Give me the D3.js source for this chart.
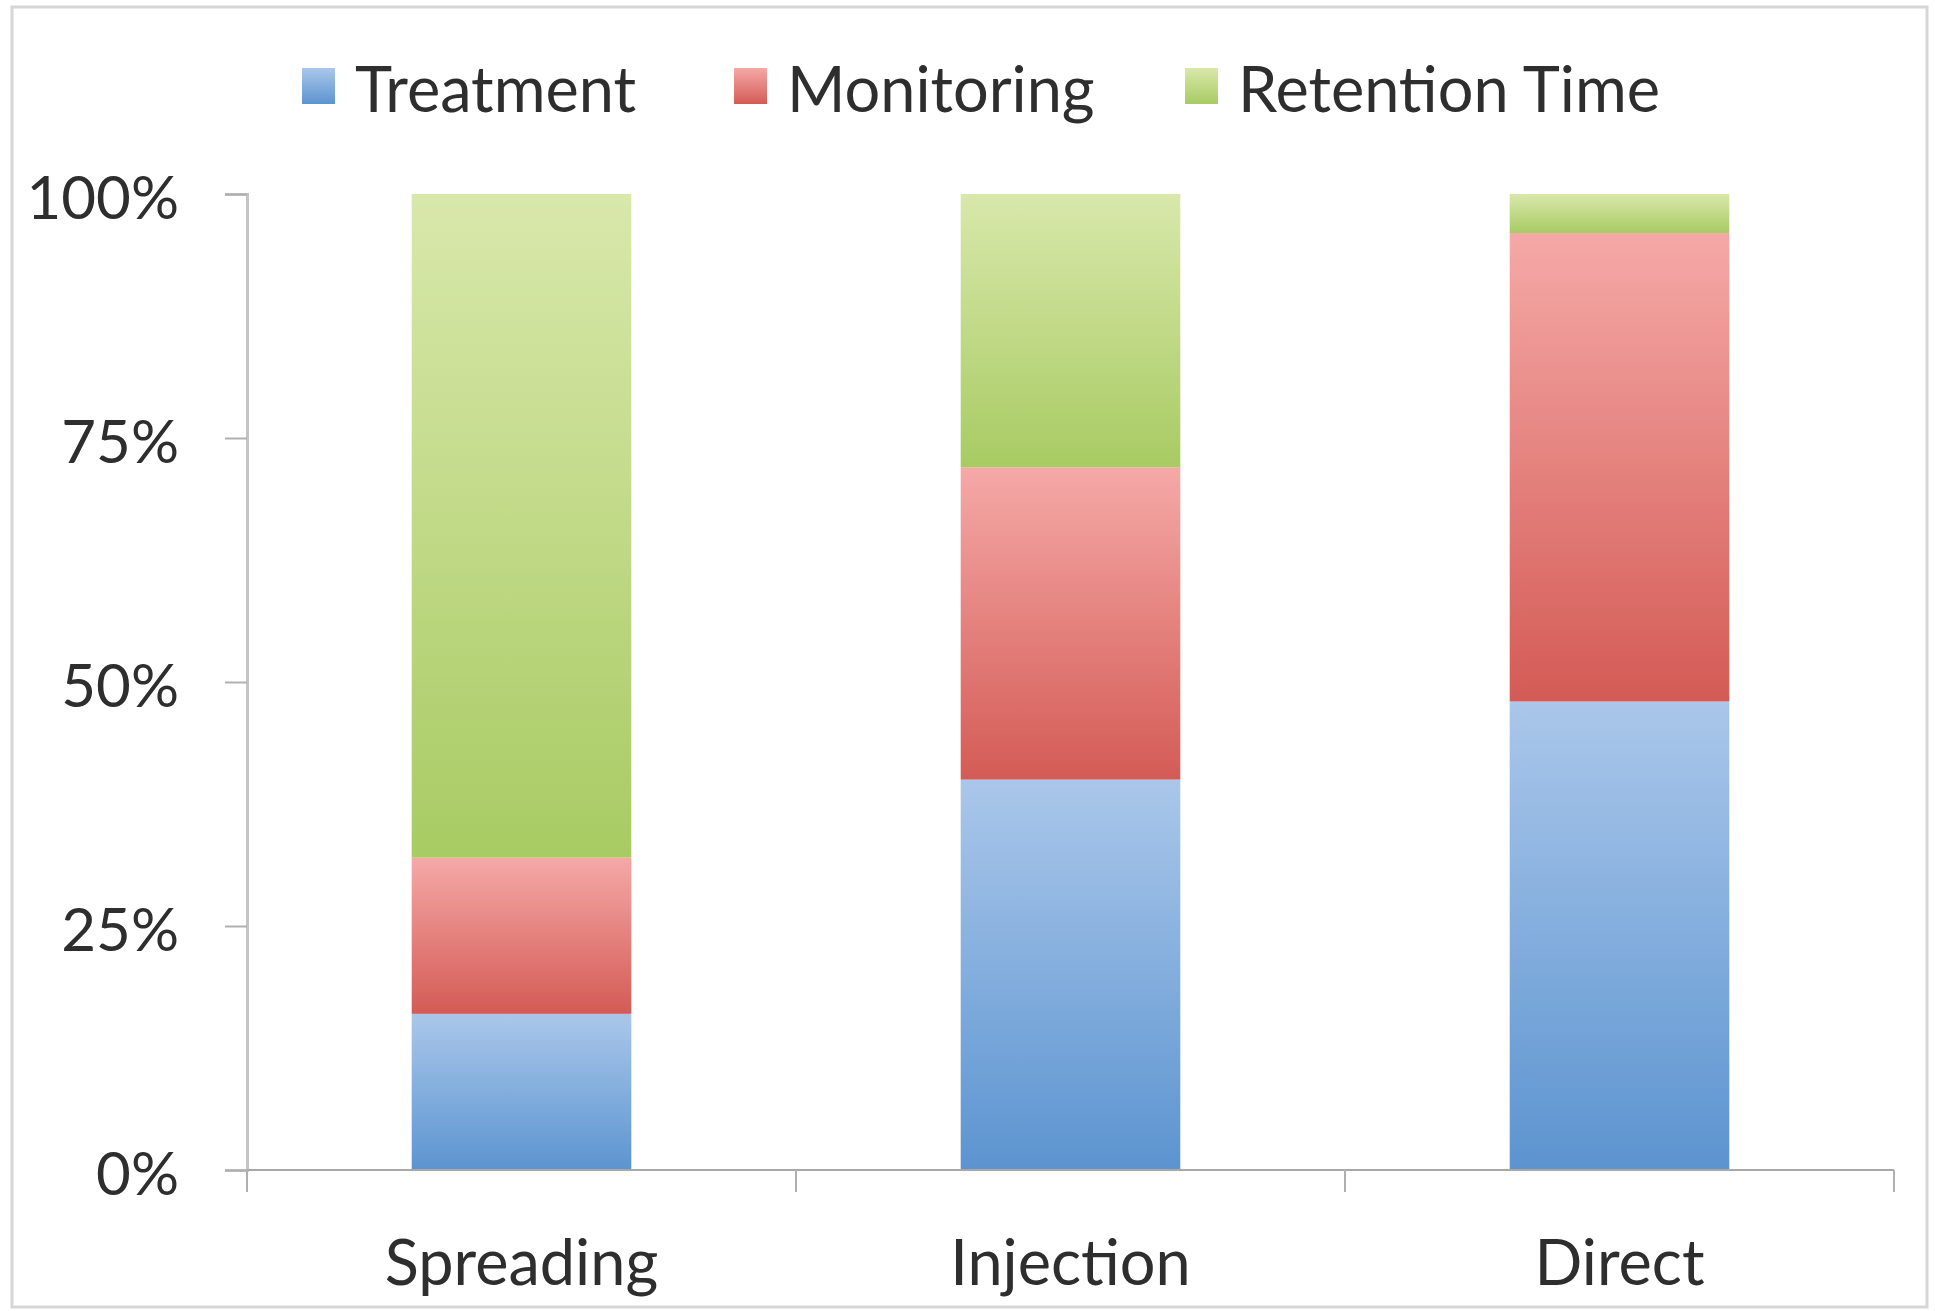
<!DOCTYPE html>
<html>
<head>
<meta charset="utf-8">
<script src="https://cdn.jsdelivr.net/npm/d3@7"></script>
<style>
  html, body { margin: 0; padding: 0; background: #fff; }
  svg { display: block; }
  text { font-family: Lato, "Open Sans", sans-serif; fill: #2e2e2e; }
</style>
</head>
<body>
<script>
// ---- data ----
const categories = ["Spreading", "Injection", "Direct"];
const seriesNames = ["Treatment", "Monitoring", "Retention Time"];
const treatment = [16, 40, 48];
const monitoring = [16, 32, 48];
const retention = [68, 28, 4];
const yTicks = [0, 25, 50, 75, 100];

// ---- layout ----
const W = 1935, H = 1311;
const x0 = 247, x1 = 1894, y0 = 1170, y1 = 194;

const svg = d3.select("body").append("svg").attr("width", W).attr("height", H);

const colors = {
  "Treatment": ["#aac7ea", "#5c94d0"],
  "Monitoring": ["#f5a9a7", "#d45b55"],
  "Retention Time": ["#d9e8ab", "#a8cb63"]
};

const defs = svg.append("defs");
seriesNames.forEach((s, i) => {
  const g = defs.append("linearGradient").attr("id", "g" + i)
    .attr("x1", 0).attr("y1", 0).attr("x2", 0).attr("y2", 1);
  g.append("stop").attr("offset", "0%").attr("stop-color", colors[s][0]);
  g.append("stop").attr("offset", "100%").attr("stop-color", colors[s][1]);
});

// frame
svg.append("rect").attr("x", 12).attr("y", 7).attr("width", 1915).attr("height", 1300)
  .attr("fill", "none").attr("stroke", "#d6d6d6").attr("stroke-width", 3);

const table = categories.map((c, i) => ({
  cat: c, "Treatment": treatment[i], "Monitoring": monitoring[i], "Retention Time": retention[i]
}));
const stacked = d3.stack().keys(seriesNames)(table);

const x = d3.scaleBand().domain(categories).range([x0, x1]).padding(0);
const y = d3.scaleLinear().domain([0, 100]).range([y0, y1]);
const barW = x.bandwidth() * 0.4;

// bars
stacked.forEach((layer, i) => {
  svg.append("g").selectAll("rect").data(layer).join("rect")
    .attr("x", d => x(d.data.cat) + (x.bandwidth() - barW) / 2)
    .attr("y", d => y(d[1]))
    .attr("width", barW)
    .attr("height", d => y(d[0]) - y(d[1]))
    .attr("fill", "url(#g" + i + ")");
});

// y axis
const yAxis = svg.append("g").attr("transform", `translate(${x0},0)`)
  .call(d3.axisLeft(y).tickValues(yTicks).tickFormat(d => d + "%").tickSize(22).tickPadding(46));
yAxis.select(".domain").attr("stroke", "#c4c4c4").attr("stroke-width", 3);
yAxis.selectAll(".tick line").attr("stroke", "#b0b0b0").attr("stroke-width", 2);
yAxis.selectAll(".tick text").style("font-size", "60px").attr("fill", "#2e2e2e").attr("dy", "0.4em");

// x axis
const xAxis = svg.append("g").attr("transform", `translate(0,${y0})`);
xAxis.append("line").attr("x1", x0).attr("x2", x1).attr("y1", 0).attr("y2", 0)
  .attr("stroke", "#a8a8a8").attr("stroke-width", 2);
const bounds = categories.map(c => x(c)).concat([x1]);
xAxis.selectAll("line.tk").data(bounds).join("line").attr("class", "tk")
  .attr("x1", d => d).attr("x2", d => d).attr("y1", 0).attr("y2", 22)
  .attr("stroke", "#b0b0b0").attr("stroke-width", 2);
xAxis.selectAll("text").data(categories).join("text")
  .attr("x", d => x(d) + x.bandwidth() / 2).attr("y", 90)
  .attr("text-anchor", "middle").attr("dominant-baseline", "central")
  .style("font-size", "63px").text(d => d);

// legend
const legendX = [302, 734, 1185];
const lg = svg.append("g");
seriesNames.forEach((s, i) => {
  lg.append("rect").attr("x", legendX[i]).attr("y", 68).attr("width", 33).attr("height", 36)
    .attr("fill", "url(#g" + i + ")");
  lg.append("text").attr("x", legendX[i] + 53).attr("y", 87)
    .attr("dominant-baseline", "central").style("font-size", "63px").text(s);
});
</script>
</body>
</html>
